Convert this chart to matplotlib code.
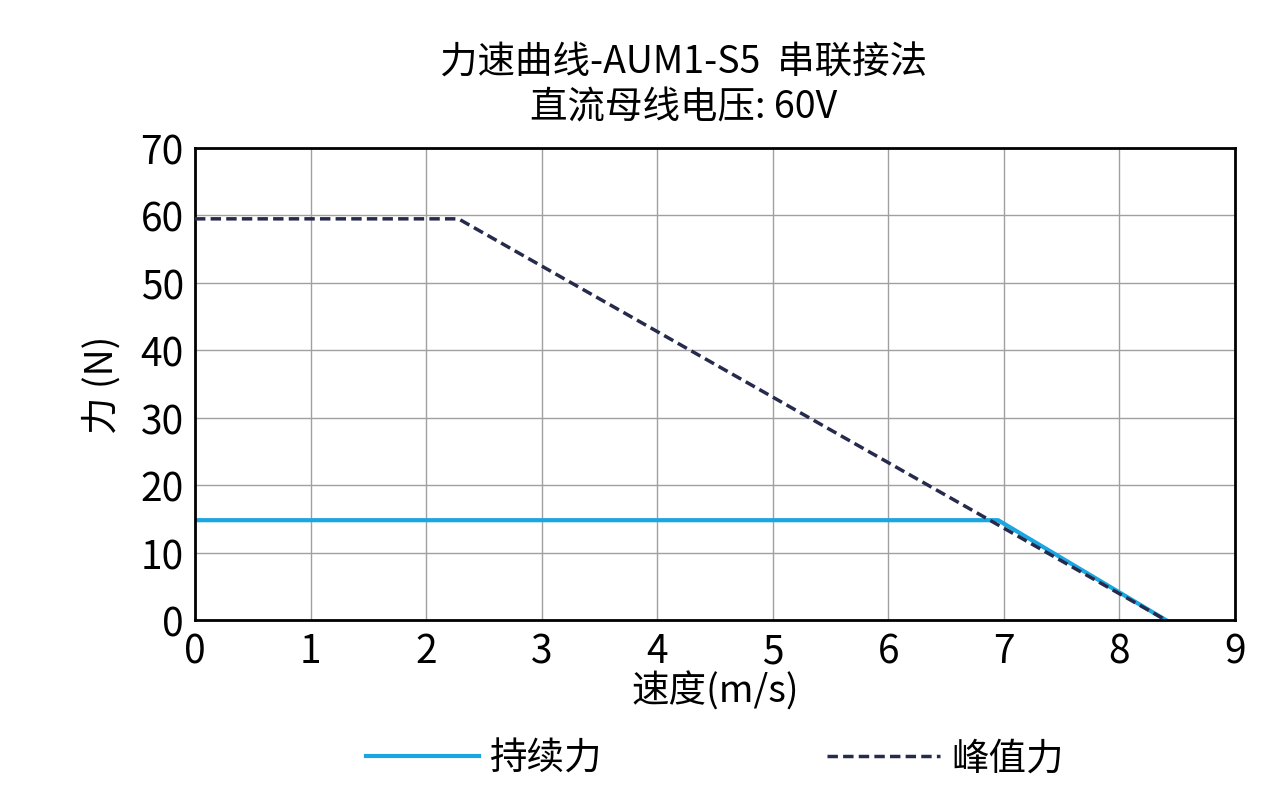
import matplotlib
matplotlib.use("Agg")
import matplotlib.pyplot as plt

plt.rcParams['font.family'] = ['Noto Sans CJK SC', 'DejaVu Sans']

cont_x = [0, 6.95, 8.4]
cont_y = [14.8, 14.8, 0]
peak_x = [0, 2.28, 8.4]
peak_y = [59.5, 59.5, 0]

fig = plt.figure(figsize=(12.87, 8.03), dpi=100)
ax = fig.add_axes([0.1515, 0.2267, 0.8081, 0.5877])

ax.plot(peak_x, peak_y, color='#262b4d', lw=2.5, ls=(0, (3, 1.5)), label='峰值力', zorder=3)
ax.plot(cont_x, cont_y, color='#1aa6e0', lw=3, label='持续力', zorder=2)

ax.set_xlim(0, 9)
ax.set_ylim(0, 70)
ax.set_xticks(range(0, 10))
ax.set_yticks(range(0, 71, 10))
ax.grid(True, color='#a0a0a0', lw=1)
for s in ax.spines.values():
    s.set_linewidth(2)
    s.set_color('black')
ax.tick_params(length=0, labelsize=28, pad=8)
ax.set_xlabel('速度(m/s)', fontsize=27, labelpad=0)
ax.set_ylabel('力 (N)', fontsize=27, labelpad=14)
ax.set_title('力速曲线-AUM1-S5  串联接法\n直流母线电压: 60V', fontsize=27, pad=22, linespacing=1.2, x=0.47)
h, l = ax.get_legend_handles_labels()
ax.legend(h[::-1], l[::-1], loc='upper center', bbox_to_anchor=(0.5, -0.18), ncol=2, frameon=False,
          fontsize=27, columnspacing=6, handlelength=3.0, handletextpad=0.3)

fig.savefig('out.png', dpi=100)
